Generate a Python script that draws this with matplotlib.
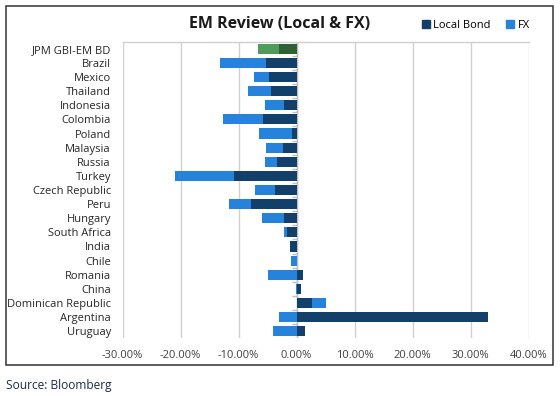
import numpy as np
import matplotlib
matplotlib.use("Agg")
import matplotlib.pyplot as plt
from matplotlib.patches import Rectangle, Patch

categories = ["JPM GBI-EM BD", "Brazil", "Mexico", "Thailand", "Indonesia", "Colombia",
              "Poland", "Malaysia", "Russia", "Turkey", "Czech Republic", "Peru", "Hungary",
              "South Africa", "India", "Chile", "Romania", "China", "Dominican Republic",
              "Argentina", "Uruguay"]
local_bond = [-3.05, -5.23, -4.77, -4.48, -2.13, -5.80, -0.86, -2.41, -3.28, -10.80, -3.68,
              -7.76, -2.13, -1.72, -1.15, 0.0, 1.05, 0.72, 2.64, 33.10, 1.40]
fx = [-3.62, -7.99, -2.59, -3.91, -3.22, -6.90, -5.52, -2.93, -2.07, -10.23, -3.39,
      -3.91, -3.79, -0.52, 0.0, -0.98, -4.83, -0.10, 2.47, -3.10, -4.02]
x_ticks = [-30, -20, -10, 0, 10, 20, 30, 40]

plt.rcParams['font.family'] = ['Open Sans', 'DejaVu Sans']

DARK = '#133F6B'
LIGHT = '#2683DB'
GDARK = '#2E6236'
GLIGHT = '#4E9B5A'

fig = plt.figure(figsize=(5.6, 3.96), dpi=100)
W, H = 560, 396
ax = fig.add_axes([122.5 / W, 1 - 338.3 / H, 406 / W, (338.3 - 41.7) / H])

lb = np.array(local_bond)
fxv = np.array(fx)
y = np.arange(len(categories))
dark_cols = [GDARK if i == 0 else DARK for i in y]
light_cols = [GLIGHT if i == 0 else LIGHT for i in y]

# Excel-style stacking: positives and negatives accumulate separately
fx_left = np.where(np.sign(fxv) == np.sign(lb), lb, 0.0)
bh = 0.71
ax.barh(y, lb, height=bh, color=dark_cols, zorder=3)
ax.barh(y, fxv, left=fx_left, height=bh, color=light_cols, zorder=3)

ax.set_xlim(x_ticks[0], x_ticks[-1])
ax.set_ylim(len(categories) - 0.5, -0.5)
ax.set_xticks(x_ticks)
ax.set_xticklabels([f"{v:.2f}%" for v in x_ticks], fontsize=8, color='#404040')
ax.set_yticks(y)
ax.set_yticklabels(categories, fontsize=8, color='#262626')
ax.tick_params(axis='both', length=0)
ax.tick_params(axis='x', pad=8.5)
ax.tick_params(axis='y', pad=8.3)
ax.xaxis.grid(True, color='#D0D0D0', lw=1, zorder=0)
for s in ['left', 'right', 'bottom']:
    ax.spines[s].set_visible(False)
ax.spines['top'].set_color('#D0D0D0')
ax.spines['top'].set_linewidth(1)

# zero axis with category-boundary ticks
ax.axvline(0, color='#BFBFBF', lw=1, zorder=2)
ax.hlines(np.arange(len(categories) + 1) - 0.5, -0.7, 0, color='#BFBFBF', lw=1, zorder=2)

# legend
handles = [Patch(color=DARK, label='Local Bond'), Patch(color=LIGHT, label='FX')]
fig.legend(handles=handles, loc='center', bbox_to_anchor=(476 / W, 1 - 25.7 / H), ncol=2,
           frameon=False, fontsize=8, handlelength=0.7, handleheight=0.7,
           handletextpad=0.3, columnspacing=1.4)

fig.text(279.5 / W, 1 - 24 / H, "EM Review (Local & FX)", ha='center', va='center',
         fontsize=11.5, fontweight='bold', color='#1a1a1a')

fig.patches.append(Rectangle((6 / W, 1 - 365 / H), (552.7 - 6) / W, (365 - 6) / H,
                             transform=fig.transFigure, fill=False, ec='#333333', lw=1.1))

fig.text(6 / W, 1 - 386 / H, "Source: Bloomberg", ha='left', va='center',
         fontsize=8.6, color='#1B2A47')

fig.savefig("out.png", dpi=100)
